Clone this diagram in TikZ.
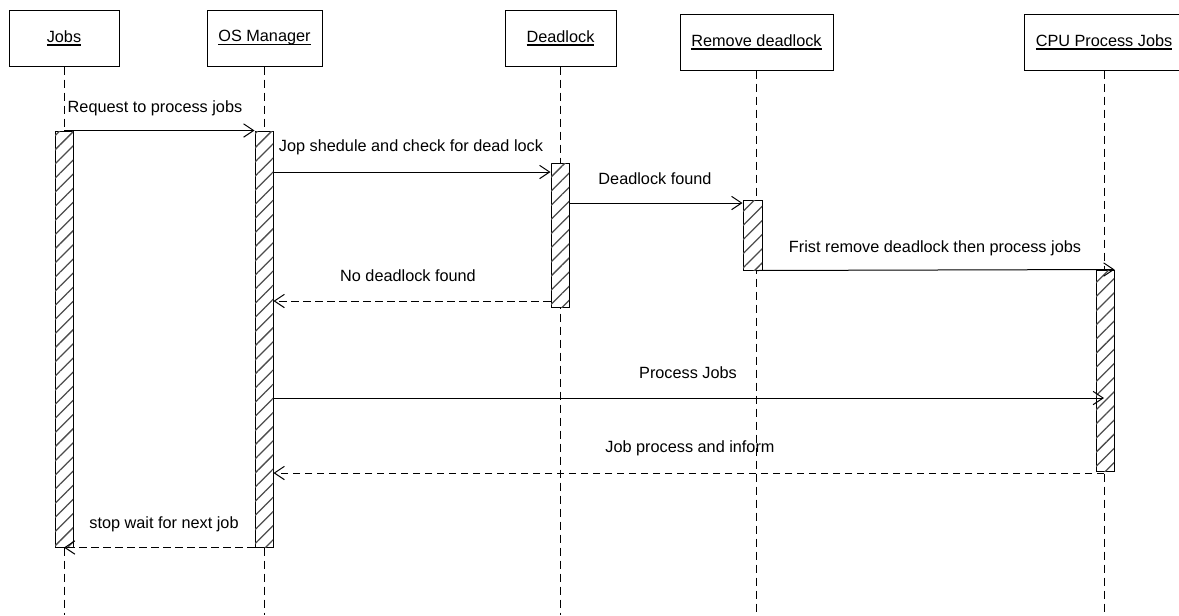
\documentclass[tikz,border=0pt]{standalone}
\usepackage{fontspec}
\setmainfont{Liberation Sans}
\usetikzlibrary{arrows.meta,patterns.meta,fit}

% underline drawn as a solid rule a little under the baseline
\newcommand{\hdrline}[1]{\setbox0\hbox{#1}\rlap{\vrule width\wd0 height -1.7pt depth 2.5pt}\box0}

\begin{document}
\begin{tikzpicture}[x=0.75pt,y=-0.75pt,
  font=\fontsize{12.2pt}{14pt}\selectfont,
  hdr/.style={draw=black,line width=0.75pt,fill=white,inner sep=0pt,
    minimum height=42pt},
  act/.style={draw=black,line width=0.75pt,fill=white,inner sep=0pt,
    postaction={pattern color=black!70,
      pattern={Lines[angle=45,distance=7.5pt,line width=0.95pt]}}},
  life/.style={line width=0.75pt,dash pattern=on 6pt off 3.75pt},
  msg/.style={line width=0.75pt,-{Straight Barb[length=7.5pt,width=10pt]}},
  ret/.style={msg,dash pattern=on 5.5pt off 3.5pt},
  lbl/.style={inner sep=0pt}]

\useasboundingbox (0,0) rectangle (1179,615);

% participants
\node[hdr,minimum width=82.5pt]  (hJobs) at (64,38)    {\hdrline{Jobs}};
\node[hdr,minimum width=86.25pt] (hOS)   at (264.5,38) {\hdrline{OS Manager}};
\node[hdr,minimum width=83.25pt] (hDead) at (560.5,38) {\hdrline{Deadlock}};
\node[hdr,minimum width=114.75pt] (hRem) at (756.5,42) {\hdrline{Remove deadlock}};
\node[hdr,minimum width=120pt]   (hCPU)  at (1104,42)  {\hdrline{CPU Process Jobs}};

% lifelines
\coordinate (bottom) at (0,615);
\foreach \p in {hJobs,hOS,hDead,hRem,hCPU}
  \draw[life] (\p.south) -- (\p.south |- bottom);

% activation bars
\node[act,fit={(55,131) (73,547)}]    (aJobs) {};
\node[act,fit={(255,131) (273,547)}]  (aOS)   {};
\node[act,fit={(551,163) (569,307)}]  (aDead) {};
\node[act,fit={(743,200) (762,270)}]  (aRem)  {};
\node[act,fit={(1096,270) (1114,471)}] (aCPU) {};

% message levels
\coordinate (y2) at (0,172);
\coordinate (y3) at (0,203);
\coordinate (y5) at (0,301);
\coordinate (y6) at (0,398);
\coordinate (y7) at (0,473);

% messages
\draw[msg] (aJobs.north) -- (aOS.north west);
\node[lbl] (l1) at (155,108) {Request to process jobs};

\draw[msg] (aOS.east |- y2) -- (aDead.west |- y2);
\node[lbl] (l2) at (411,147) {Jop shedule and check for dead lock};

\draw[msg] (aDead.east |- y3) -- (aRem.west |- y3);
\node[lbl] (l3) at (655,179) {Deadlock found};

\draw[msg] (hRem.south |- aRem.south) -- (aCPU.north east);
\node[lbl] (l4) at (935,248) {Frist remove deadlock then process jobs};

\draw[ret] (aDead.west |- y5) -- (aOS.east |- y5);
\node[lbl] (l5) at (408,276) {No deadlock found};

\draw[msg] (aOS.east |- y6) -- (hCPU.south |- y6);
\node[lbl] (l6) at (688,373) {Process Jobs};

\draw[ret] (hCPU.south |- y7) -- (aOS.east |- y7);
\node[lbl] (l7) at (690,448) {Job process and inform};

\draw[ret] (aOS.south west) -- (aJobs.south);
\node[lbl] (l8) at (164,524) {stop wait for next job};

\end{tikzpicture}
\end{document}
